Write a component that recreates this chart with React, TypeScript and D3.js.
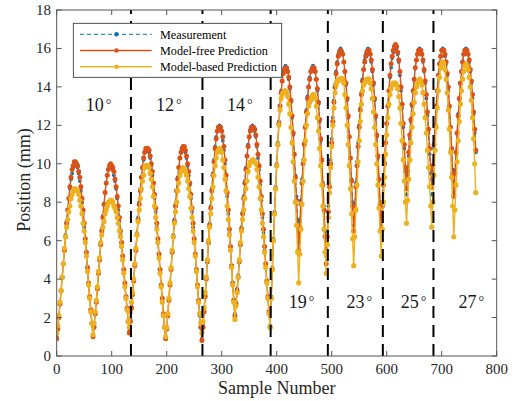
import React from 'react';
import * as d3 from 'd3';

// Sample spacing of the arrays below (one value every 2 samples)
const SAMPLE_STEP = 2;

const measurement = [
  1.0,1.5,2.1,2.8,3.4,4.1,4.8,5.6,6.3,7.0,7.6,8.2,8.7,9.2,9.5,9.8,9.9,10.0,
  9.9,9.8,9.5,9.1,8.6,8.0,7.4,6.7,5.9,5.2,4.4,3.7,3.0,2.3,1.7,1.1,
  1.7,2.3,2.9,3.6,4.4,5.1,5.9,6.6,7.3,7.9,8.5,9.0,9.4,9.7,9.8,9.9,
  9.9,9.7,9.4,9.1,8.7,8.2,7.6,7.0,6.3,5.7,5.0,4.3,3.6,3.0,2.4,1.8,1.3,
  1.9,2.6,3.3,4.0,4.8,5.6,6.4,7.2,8.0,8.7,9.3,9.8,10.2,10.6,10.7,10.8,
  10.7,10.6,10.3,9.9,9.4,8.8,8.2,7.5,6.7,5.9,5.1,4.3,3.6,2.8,2.1,1.5,0.9,
  1.5,2.2,3.0,3.8,4.6,5.5,6.3,7.1,7.9,8.6,9.3,9.8,10.3,10.6,10.8,10.9,
  10.8,10.6,10.3,9.9,9.4,8.9,8.2,7.5,6.7,5.9,5.2,4.4,3.6,2.8,2.1,1.5,0.9,
  1.6,2.4,3.2,4.1,5.0,6.0,6.9,7.8,8.7,9.5,10.2,10.9,11.4,11.7,11.9,12.0,
  11.9,11.7,11.2,10.7,10.0,9.2,8.3,7.4,6.4,5.5,4.6,3.7,2.9,2.2,
  2.8,3.5,4.2,5.0,5.9,6.7,7.5,8.3,9.1,9.8,10.4,11.0,11.4,11.8,11.9,12.0,
  11.9,11.7,11.4,10.9,10.3,9.7,8.9,8.1,7.2,6.4,5.5,4.6,3.8,3.0,2.3,1.6,
  3.1,4.6,6.1,7.5,8.8,10.0,11.1,12.2,13.0,13.8,14.3,14.8,15.0,15.1,
  15.0,14.8,14.4,13.9,13.2,12.4,11.5,10.5,9.4,8.3,7.1,5.9,
  7.0,8.1,9.2,10.2,11.1,12.0,12.8,13.5,14.0,14.5,14.8,15.0,15.1,
  15.0,14.8,14.4,13.8,13.1,12.2,11.2,10.2,9.0,7.8,6.5,5.2,
  6.5,7.8,9.0,10.2,11.3,12.4,13.3,14.1,14.8,15.3,15.7,15.9,16.0,
  15.9,15.7,15.3,14.8,14.1,13.3,12.4,11.4,10.3,9.2,8.0,6.8,
  7.9,9.0,10.1,11.1,12.0,12.9,13.7,14.4,14.9,15.4,15.7,15.9,16.0,
  15.9,15.7,15.3,14.8,14.1,13.3,12.4,11.4,10.3,9.2,8.0,6.8,
  7.9,9.0,10.1,11.1,12.1,13.0,13.8,14.5,15.0,15.5,15.8,16.0,16.1,
  16.0,15.7,15.3,14.6,13.8,12.9,11.9,10.8,9.6,8.4,
  9.4,10.4,11.3,12.2,13.0,13.8,14.4,15.0,15.4,15.7,15.9,16.0,
  15.9,15.7,15.3,14.8,14.2,13.4,12.5,11.6,10.5,9.5,8.4,
  9.6,10.8,11.9,12.9,13.8,14.6,15.2,15.6,15.9,16.0,
  15.9,15.6,15.2,14.6,13.8,12.9,11.9,10.8,9.7,8.5,
  9.6,10.6,11.6,12.6,13.4,14.2,14.8,15.3,15.7,15.9,16.0,
  15.9,15.7,15.3,14.8,14.2,13.4,12.6,11.6,10.6,
];

const modelFree = [
  0.9,1.4,2.0,2.7,3.4,4.1,4.8,5.5,6.2,6.9,7.6,8.2,8.8,9.3,9.7,9.9,10.1,10.1,
  10.0,9.9,9.6,9.3,8.8,8.2,7.6,6.9,6.1,5.4,4.6,3.8,3.1,2.4,1.7,1.0,
  1.5,2.2,2.8,3.5,4.3,5.0,5.8,6.5,7.2,7.9,8.5,9.0,9.4,9.7,9.9,10.0,
  9.9,9.8,9.6,9.2,8.8,8.3,7.8,7.2,6.5,5.9,5.2,4.5,3.8,3.1,2.5,1.8,1.2,
  1.8,2.5,3.2,3.9,4.7,5.5,6.3,7.1,7.9,8.6,9.3,9.8,10.3,10.6,10.8,10.8,
  10.8,10.7,10.4,10.0,9.6,9.0,8.4,7.7,6.9,6.1,5.3,4.5,3.7,3.0,2.2,1.5,0.9,
  1.4,2.1,2.9,3.7,4.5,5.4,6.2,7.0,7.8,8.6,9.2,9.8,10.3,10.6,10.8,10.9,
  10.9,10.7,10.4,10.0,9.6,9.0,8.4,7.7,6.9,6.1,5.3,4.5,3.7,2.9,2.2,1.5,0.8,
  1.5,2.3,3.1,4.0,4.9,5.9,6.8,7.7,8.6,9.4,10.1,10.8,11.3,11.7,11.9,11.9,
  11.9,11.7,11.4,10.9,10.2,9.4,8.5,7.6,6.6,5.7,4.7,3.8,2.9,2.1,
  2.7,3.4,4.1,4.9,5.8,6.6,7.4,8.2,9.0,9.7,10.4,10.9,11.4,11.7,11.9,11.9,
  11.9,11.8,11.5,11.0,10.5,9.9,9.1,8.3,7.4,6.6,5.7,4.8,3.9,3.1,2.3,1.5,
  3.0,4.5,6.0,7.4,8.7,9.9,11.0,12.1,13.0,13.7,14.3,14.7,14.9,15.0,
  15.0,14.8,14.5,14.0,13.3,12.5,11.6,10.5,9.3,8.1,6.8,5.5,
  6.7,7.9,9.0,10.0,11.0,11.9,12.7,13.4,14.0,14.4,14.8,14.9,15.0,
  15.0,14.8,14.4,13.9,13.2,12.3,11.3,10.2,8.9,7.6,6.2,4.8,
  6.2,7.5,8.8,10.0,11.1,12.2,13.2,14.0,14.7,15.2,15.6,15.8,15.9,
  15.8,15.7,15.3,14.8,14.2,13.4,12.5,11.4,10.3,9.1,7.8,6.5,
  7.7,8.8,9.9,10.9,11.9,12.8,13.6,14.3,14.9,15.3,15.6,15.8,15.9,
  15.9,15.7,15.4,14.9,14.2,13.4,12.5,11.5,10.4,9.2,7.9,6.6,
  7.8,8.9,10.0,11.1,12.1,13.0,13.8,14.6,15.2,15.6,15.9,16.1,16.2,
  16.1,15.8,15.4,14.8,14.0,13.1,12.1,11.0,9.8,8.7,
  9.6,10.6,11.5,12.3,13.1,13.8,14.4,15.0,15.4,15.7,15.9,15.9,
  15.9,15.7,15.4,14.9,14.3,13.6,12.7,11.8,10.8,9.8,8.8,
  9.9,11.0,12.0,13.0,13.8,14.6,15.2,15.6,15.9,15.9,
  15.9,15.7,15.3,14.7,14.0,13.0,11.9,10.8,9.5,8.3,
  9.5,10.6,11.6,12.5,13.4,14.2,14.8,15.3,15.7,15.9,15.9,
  15.9,15.7,15.4,14.9,14.3,13.6,12.7,11.8,10.7,
];

const modelBased = [
  1.2,1.6,2.1,2.8,3.4,4.1,4.8,5.6,6.2,6.7,7.1,7.5,7.8,8.2,8.4,8.6,8.7,8.7,
  8.6,8.6,8.4,8.1,7.8,7.4,6.9,6.5,5.9,5.2,4.4,3.7,3.0,2.3,1.7,1.1,
  1.7,2.3,2.9,3.6,4.4,5.1,5.9,6.3,6.7,7.0,7.4,7.6,7.8,8.0,8.0,8.1,
  8.1,8.0,7.8,7.7,7.5,7.2,6.9,6.5,6.2,5.7,5.0,4.3,3.6,3.0,2.4,1.8,1.5,
  2.3,2.8,3.3,4.0,4.8,5.6,6.3,7.0,7.6,8.2,8.7,9.1,9.4,9.8,9.9,9.9,
  9.9,9.8,9.5,9.2,8.8,8.3,7.8,7.2,6.6,5.9,5.1,4.3,3.6,2.8,2.1,1.5,1.0,
  1.5,2.2,3.0,3.8,4.6,5.5,6.2,6.9,7.5,8.0,8.6,9.0,9.4,9.6,9.7,9.8,
  9.7,9.6,9.4,9.1,8.7,8.3,7.7,7.2,6.5,5.9,5.2,4.4,3.6,2.8,2.2,1.7,1.2,
  1.8,2.5,3.3,4.1,5.0,6.0,6.7,7.4,8.2,8.8,9.4,9.9,10.3,10.6,10.7,10.8,
  10.7,10.6,10.2,9.8,9.2,8.6,7.8,7.1,6.3,5.5,4.6,3.7,2.8,1.9,
  2.6,3.3,4.1,5.0,5.9,6.5,7.1,7.6,8.2,8.7,9.1,9.6,9.9,10.1,10.1,10.2,
  10.2,10.1,10.0,9.7,9.3,8.8,8.2,7.6,6.9,6.2,5.4,4.6,3.8,3.0,2.2,1.5,
  3.0,4.5,6.0,7.4,8.7,9.9,11.0,12.0,12.8,13.4,13.6,13.7,13.8,13.8,
  13.7,13.5,13.1,12.6,11.9,11.1,10.1,9.1,8.0,6.8,5.4,3.8,
  5.3,6.6,7.9,9.1,10.2,11.2,12.0,12.6,13.0,13.2,13.3,13.5,13.6,
  13.6,13.4,13.0,12.4,11.7,10.8,9.9,8.9,7.8,6.6,5.4,4.3,
  5.8,7.2,8.5,9.8,10.9,12.0,12.9,13.7,14.1,14.3,14.3,14.4,14.4,
  14.45,14.4,14.2,13.6,12.9,12.0,11.0,9.9,8.7,7.4,6.1,4.7,
  6.2,7.6,8.9,10.1,11.2,12.2,13.1,13.8,14.1,14.2,14.3,14.4,14.4,
  14.4,14.2,13.9,13.4,12.7,11.9,11.0,10.0,8.9,7.7,6.5,5.2,
  6.6,8.0,9.3,10.5,11.5,12.4,13.1,13.6,13.9,14.1,14.2,14.2,14.2,
  14.1,13.9,13.5,12.9,12.1,11.2,10.2,9.1,8.0,6.9,
  8.1,9.2,10.2,11.1,11.9,12.6,13.2,13.7,14.0,14.2,14.3,14.4,
  14.3,14.1,13.7,13.1,12.4,11.6,10.7,9.8,8.8,7.8,6.7,
  8.0,9.4,10.7,11.9,12.9,13.8,14.5,15.0,15.2,15.3,
  15.2,14.9,14.4,13.7,12.8,11.8,10.6,9.3,7.8,6.2,
  7.6,8.9,10.1,11.2,12.2,13.1,13.8,14.4,14.8,15.1,15.2,
  15.1,14.9,14.5,14.0,13.3,12.4,11.3,10.0,8.5,
];

const boundaries = [135, 265, 389, 493, 593, 685];
const angleLabels = ['10', '12', '14', '19', '23', '25', '27'];
const angleLabelX = [76, 204, 333, 445, 550, 649, 754];
const angleLabelY = [12.75, 12.75, 12.75, 2.5, 2.5, 2.5, 2.5];
const xTicks = [0, 100, 200, 300, 400, 500, 600, 700, 800];
const yTicks = [0, 2, 4, 6, 8, 10, 12, 14, 16, 18];
const seriesNames = ['Measurement', 'Model-free Prediction', 'Model-based Prediction'];

const BLUE = '#0072BD';
const RED = '#D95319';
const YELLOW = '#EDB120';
const FONT = "'Liberation Serif', 'Times New Roman', Times, serif";
const AXIS = '#555555';

export default function App() {
  const W = 515, H = 401;
  const left = 56.7, right = 496.7, top = 10, bottom = 356;
  const x = d3.scaleLinear().domain([0, 800]).range([left, right]);
  const y = d3.scaleLinear().domain([0, 18]).range([bottom, top]);

  const toPts = (arr: number[]) => arr.map((v, i) => [i * SAMPLE_STEP, v] as [number, number]);
  const line = d3.line<[number, number]>().x(d => x(d[0])).y(d => y(d[1]));

  const series = [
    { name: seriesNames[0], data: toPts(measurement), color: BLUE, dash: '4,3', width: 1, r: 1.9 },
    { name: seriesNames[1], data: toPts(modelFree), color: RED, dash: undefined, width: 1.4, r: 2.5 },
    { name: seriesNames[2], data: toPts(modelBased), color: YELLOW, dash: undefined, width: 1.4, r: 2.6 },
  ];

  const tickLen = 5;
  const ts = { fontFamily: FONT };

  return (
    <svg width={W} height={H} style={{ position: 'absolute', left: 0, top: 0, background: '#fff' }}>
      <rect x={0} y={0} width={W} height={H} fill="#fff" />
      <defs>
        <clipPath id="plotclip">
          <rect x={left} y={top} width={right - left} height={bottom - top} />
        </clipPath>
      </defs>

      <g clipPath="url(#plotclip)">
        {series.map(s => (
          <g key={s.name}>
            <path d={line(s.data) || ''} fill="none" stroke={s.color} strokeWidth={s.width}
              strokeDasharray={s.dash} />
            {s.data.map((d, i) => (
              <circle key={i} cx={x(d[0])} cy={y(d[1])} r={s.r} fill={s.color} />
            ))}
          </g>
        ))}
        {boundaries.map(b => (
          <line key={b} x1={x(b)} x2={x(b)} y1={y(0)} y2={y(18)} stroke="#000" strokeWidth={2}
            strokeDasharray="12,7" />
        ))}
      </g>

      {angleLabels.map((t, i) => (
        <text key={t} x={x(angleLabelX[i])} y={y(angleLabelY[i])} textAnchor="middle" fontSize={18}
          fill="#1a1a1a" style={ts}>
          {t}<tspan dx={2} dy={-2} fontSize={14}>°</tspan>
        </text>
      ))}

      {/* axes box */}
      <rect x={left} y={top} width={right - left} height={bottom - top} fill="none" stroke={AXIS} strokeWidth={1} />
      {xTicks.map(t => (
        <g key={'x' + t}>
          <line x1={x(t)} x2={x(t)} y1={bottom} y2={bottom - tickLen} stroke={AXIS} />
          <line x1={x(t)} x2={x(t)} y1={top} y2={top + tickLen} stroke={AXIS} />
          <text x={x(t)} y={373.5} textAnchor="middle" fontSize={15} fill="#262626" style={ts}>{t}</text>
        </g>
      ))}
      {yTicks.map(t => (
        <g key={'y' + t}>
          <line x1={left} x2={left + tickLen} y1={y(t)} y2={y(t)} stroke={AXIS} />
          <line x1={right} x2={right - tickLen} y1={y(t)} y2={y(t)} stroke={AXIS} />
          <text x={51} y={y(t) + 5} textAnchor="end" fontSize={15} fill="#262626" style={ts}>{t}</text>
        </g>
      ))}

      <text x={x(400)} y={394} textAnchor="middle" fontSize={18} fill="#262626" style={ts}>Sample Number</text>
      <text transform={`translate(30, 180) rotate(-90)`} textAnchor="middle" fontSize={18} fill="#262626" style={ts}>
        Position (mm)
      </text>

      {/* legend */}
      <g>
        <rect x={73.3} y={23.3} width={208.4} height={54} fill="#fff" stroke="#262626" strokeWidth={0.8} />
        {series.map((s, i) => {
          const cy = 34.3 + i * 16.2;
          return (
            <g key={'lg' + s.name}>
              <line x1={80} x2={151.7} y1={cy} y2={cy} stroke={s.color} strokeWidth={s.width}
                strokeDasharray={s.dash} />
              <circle cx={116.5} cy={cy} r={2.2} fill={s.color} />
              <text x={160} y={cy + 4.3} fontSize={12.2} fill="#000" style={ts}>{s.name}</text>
            </g>
          );
        })}
      </g>
    </svg>
  );
}
